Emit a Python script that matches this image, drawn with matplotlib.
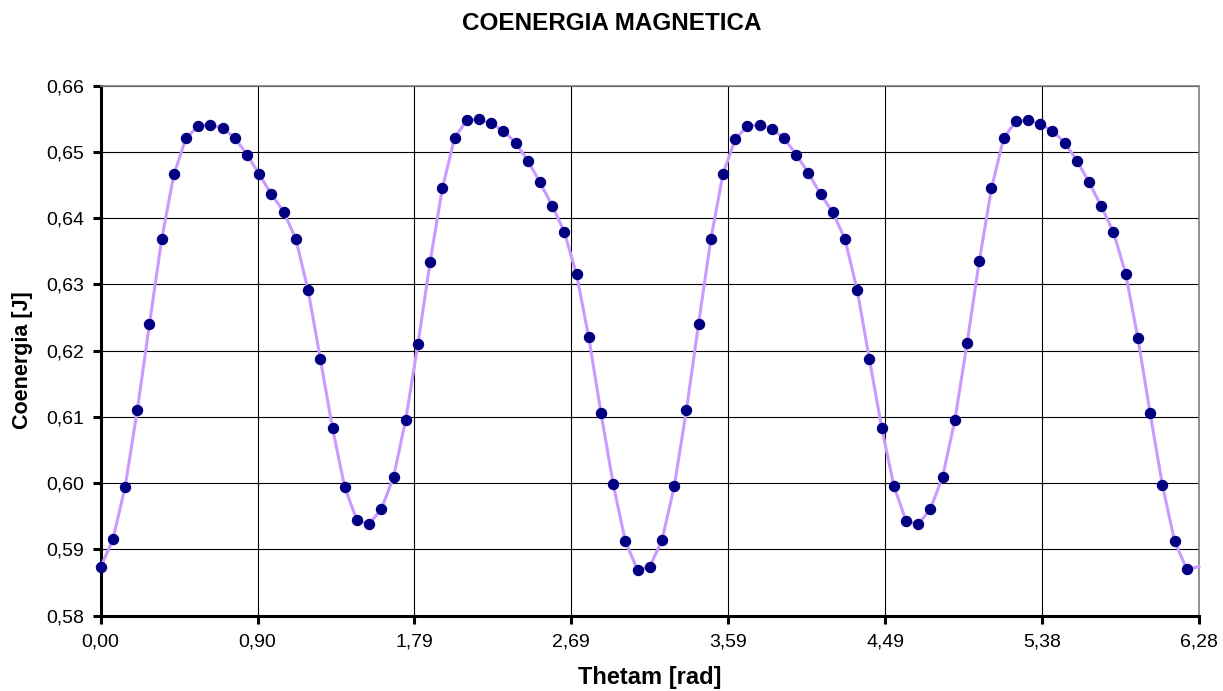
import numpy as np
import matplotlib
matplotlib.use("Agg")
import matplotlib.pyplot as plt

plt.rcParams['font.family'] = ['Liberation Sans', 'DejaVu Sans']

# ==========================================
# DATOS: coenergia cada 4 grados (0..360)
# ==========================================
angulo_grados = np.arange(0, 364, 4)

coenergia = [
    0.5873, 0.5915, 0.5994, 0.6110, 0.6240, 0.6368, 0.6466, 0.6521, 0.6539, 0.6541,
    0.6536, 0.6521, 0.6496, 0.6466, 0.6436, 0.6410, 0.6368, 0.6291, 0.6188, 0.6083,
    0.5994, 0.5944, 0.5938, 0.5961, 0.6009, 0.6096, 0.6210, 0.6334, 0.6445, 0.6521,
    0.6548, 0.6549, 0.6543, 0.6532, 0.6514, 0.6487, 0.6454, 0.6419, 0.6379, 0.6315,
    0.6220, 0.6106, 0.5999, 0.5912, 0.5869, 0.5874, 0.5914, 0.5995, 0.6110, 0.6241,
    0.6368, 0.6467, 0.6519, 0.6539, 0.6541, 0.6535, 0.6521, 0.6496, 0.6468, 0.6436,
    0.6409, 0.6368, 0.6291, 0.6187, 0.6084, 0.5996, 0.5943, 0.5938, 0.5961, 0.6010,
    0.6095, 0.6211, 0.6335, 0.6445, 0.6521, 0.6546, 0.6548, 0.6542, 0.6532, 0.6514,
    0.6487, 0.6454, 0.6418, 0.6379, 0.6316, 0.6219, 0.6106, 0.5998, 0.5913, 0.5870,
    0.5874,
]

xticks_pos = np.arange(8) * 2 * np.pi / 7
xticks_lab = ["0,00", "0,90", "1,79", "2,69", "3,59", "4,49", "5,38", "6,28"]
yticks_pos = [0.58, 0.59, 0.60, 0.61, 0.62, 0.63, 0.64, 0.65, 0.66]
yticks_lab = ["0,58", "0,59", "0,60", "0,61", "0,62", "0,63", "0,64", "0,65", "0,66"]

theta = np.deg2rad(angulo_grados)
coenergia = np.array(coenergia)

# ==========================================
# FIGURA
# ==========================================
fig = plt.figure(figsize=(12.23, 6.91), dpi=100)
ax = fig.add_axes([0.0823, 0.109, 0.898, 0.767])

ax.plot(theta, coenergia, '-', color='#CC99FF', linewidth=2.2, zorder=3, clip_on=False)
ax.plot(theta[:-1], coenergia[:-1], 'o', color='#000080', markersize=7.2, zorder=4, clip_on=False)

ax.set_xlim(0, 2 * np.pi)
ax.set_ylim(0.58, 0.66)
ax.set_xticks(xticks_pos)
ax.set_xticklabels(xticks_lab)
ax.set_yticks(yticks_pos)
ax.set_yticklabels(yticks_lab)

ax.grid(True, color='black', linewidth=0.8, zorder=1)
ax.set_axisbelow(True)

for lado in ['left', 'bottom']:
    ax.spines[lado].set_linewidth(2.2)
    ax.spines[lado].set_color('black')
for lado in ['top', 'right']:
    ax.spines[lado].set_linewidth(1.2)
    ax.spines[lado].set_color('#808080')

ax.tick_params(axis='both', direction='out', length=6, width=2.2, labelsize=14, colors='black')
ax.tick_params(axis='x', pad=6.7)
ax.tick_params(axis='y', pad=6)

# titulo centrado en la figura, no en los ejes
fig.text(0.5, 1 - 30.5 / 691, "COENERGIA MAGNETICA", fontsize=17.5, fontweight='bold',
         ha='center', va='baseline')
ax.set_xlabel("Thetam [rad]", fontsize=17, fontweight='bold')
ax.set_ylabel("Coenergia [J]", fontsize=15.5, fontweight='bold')
ax.xaxis.set_label_coords(0.5, -0.095)
ax.yaxis.set_label_coords(-0.062, 0.482)

fig.savefig("out.png", dpi=100)
